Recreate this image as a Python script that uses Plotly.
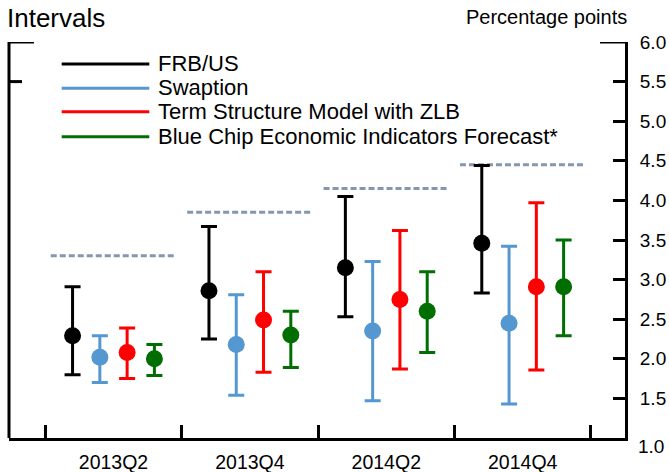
import plotly.graph_objects as go

# Forecast horizons
periods = ["2013Q2", "2013Q4", "2014Q2", "2014Q4"]

# Point estimates and interval bounds (percentage points)
frbus_mid = [2.29, 2.86, 3.15, 3.46]
frbus_hi = [2.91, 3.67, 4.05, 4.44]
frbus_lo = [1.80, 2.25, 2.53, 2.83]

swaption_mid = [2.02, 2.18, 2.35, 2.45]
swaption_hi = [2.29, 2.81, 3.23, 3.42]
swaption_lo = [1.70, 1.54, 1.47, 1.43]

tsm_mid = [2.08, 2.49, 2.75, 2.91]
tsm_hi = [2.39, 3.10, 3.62, 3.97]
tsm_lo = [1.75, 1.83, 1.87, 1.86]

bluechip_mid = [2.00, 2.30, 2.60, 2.91]
bluechip_hi = [2.18, 2.60, 3.10, 3.50]
bluechip_lo = [1.79, 1.89, 2.08, 2.29]

# Dashed reference level for each horizon
dashed_level = [3.30, 3.85, 4.15, 4.45]

y_ticks = [1.5, 2.0, 2.5, 3.0, 3.5, 4.0, 4.5, 5.0, 5.5, 6.0]

series = [
    ("FRB/US", frbus_mid, frbus_hi, frbus_lo, "#000000", -0.3),
    ("Swaption", swaption_mid, swaption_hi, swaption_lo, "#5597D0", -0.1),
    ("Term Structure Model with ZLB", tsm_mid, tsm_hi, tsm_lo, "#FF0000", 0.1),
    ("Blue Chip Economic Indicators Forecast*", bluechip_mid, bluechip_hi, bluechip_lo, "#006E00", 0.3),
]

W, H = 669, 472
ml, mr, mt, mb = 9, 44, 42, 34
pw, ph = W - ml - mr, H - mt - mb

def px_x(p):
    return (p - ml) / pw

def px_y(p):
    return (H - mb - p) / ph

fig = go.Figure()

# Dashed levels spanning each horizon
dx, dy = [], []
for i, lvl in enumerate(dashed_level):
    dx += [i - 0.46, i + 0.46, None]
    dy += [lvl, lvl, None]
fig.add_trace(go.Scatter(
    x=dx, y=dy, mode="lines", showlegend=False, hoverinfo="skip",
    line=dict(color="#8496B0", width=3, dash="6px,3px"),
))

for name, mid, hi, lo, color, off in series:
    fig.add_trace(go.Scatter(
        x=[i + off for i in range(len(periods))],
        y=mid,
        mode="markers",
        name=name,
        showlegend=False,
        marker=dict(color=color, size=17),
        error_y=dict(
            type="data",
            array=[h - m for h, m in zip(hi, mid)],
            arrayminus=[m - l for m, l in zip(mid, lo)],
            color=color, thickness=3, width=8,
        ),
    ))

shapes = []
annotations = []

# Left axis line and its top ticks
shapes.append(dict(type="line", xref="paper", yref="paper", x0=0, x1=0, y0=0, y1=1,
                   line=dict(color="black", width=3)))
shapes.append(dict(type="line", xref="paper", yref="y", x0=0, x1=px_x(34), y0=6.0, y1=6.0,
                   line=dict(color="black", width=3)))
shapes.append(dict(type="line", xref="paper", yref="y", x0=0, x1=px_x(22), y0=5.5, y1=5.5,
                   line=dict(color="black", width=3)))
# Longer top tick on the right axis
shapes.append(dict(type="line", xref="paper", yref="y", x0=px_x(600), x1=1, y0=6.0, y1=6.0,
                   line=dict(color="black", width=3)))

# Legend
legend_rows = [64, 88.3, 111.7, 136.7]
for (name, _, _, _, color, _), ry in zip(series, legend_rows):
    shapes.append(dict(type="line", xref="paper", yref="paper",
                       x0=px_x(61.7), x1=px_x(149.3), y0=px_y(ry), y1=px_y(ry),
                       line=dict(color=color, width=3)))
    annotations.append(dict(text=name, xref="paper", yref="paper", x=px_x(156), y=px_y(ry - 0.5),
                            xanchor="left", yanchor="middle", showarrow=False,
                            font=dict(size=22, color="black")))

annotations.append(dict(text="Intervals", xref="paper", yref="paper", x=px_x(5), y=px_y(18),
                        xanchor="left", yanchor="middle", showarrow=False,
                        font=dict(size=26, color="black")))
annotations.append(dict(text="Percentage points", xref="paper", yref="paper", x=px_x(629), y=px_y(17),
                        xanchor="right", yanchor="middle", showarrow=False,
                        font=dict(size=20, color="black")))
annotations.append(dict(text="1.0", xref="paper", yref="y", x=px_x(636), y=1.0, yshift=-8,
                        xanchor="left", yanchor="middle", showarrow=False,
                        font=dict(size=19, color="black")))

fig.update_layout(
    width=W, height=H,
    margin=dict(l=ml, r=mr, t=mt, b=mb, pad=0),
    paper_bgcolor="white", plot_bgcolor="white",
    font=dict(family="Liberation Sans, Arial, sans-serif", color="black"),
    shapes=shapes, annotations=annotations,
    showlegend=False,
)

fig.update_xaxes(
    range=[-0.766, 3.75], automargin=False,
    tickmode="array", tickvals=list(range(len(periods))), ticktext=periods,
    ticks="outside", ticklen=5, tickcolor="rgba(0,0,0,0)",
    tickfont=dict(size=19.5),
    showline=True, linecolor="black", linewidth=3,
    showgrid=False, zeroline=False,
    minor=dict(tickmode="array", tickvals=[-0.5, 0.5, 1.5, 2.5, 3.5],
               ticks="inside", ticklen=13, tickwidth=2.5, tickcolor="black"),
)

fig.update_yaxes(
    range=[1, 6], side="right", automargin=False,
    tickmode="array", tickvals=y_ticks, ticktext=[f"{v:.1f}" for v in y_ticks],
    ticks="inside", ticklen=12, tickwidth=3, tickcolor="black",
    ticklabelstandoff=8,
    tickfont=dict(size=19),
    showline=True, linecolor="black", linewidth=3,
    showgrid=False, zeroline=False,
)

fig.write_html("out.html")
